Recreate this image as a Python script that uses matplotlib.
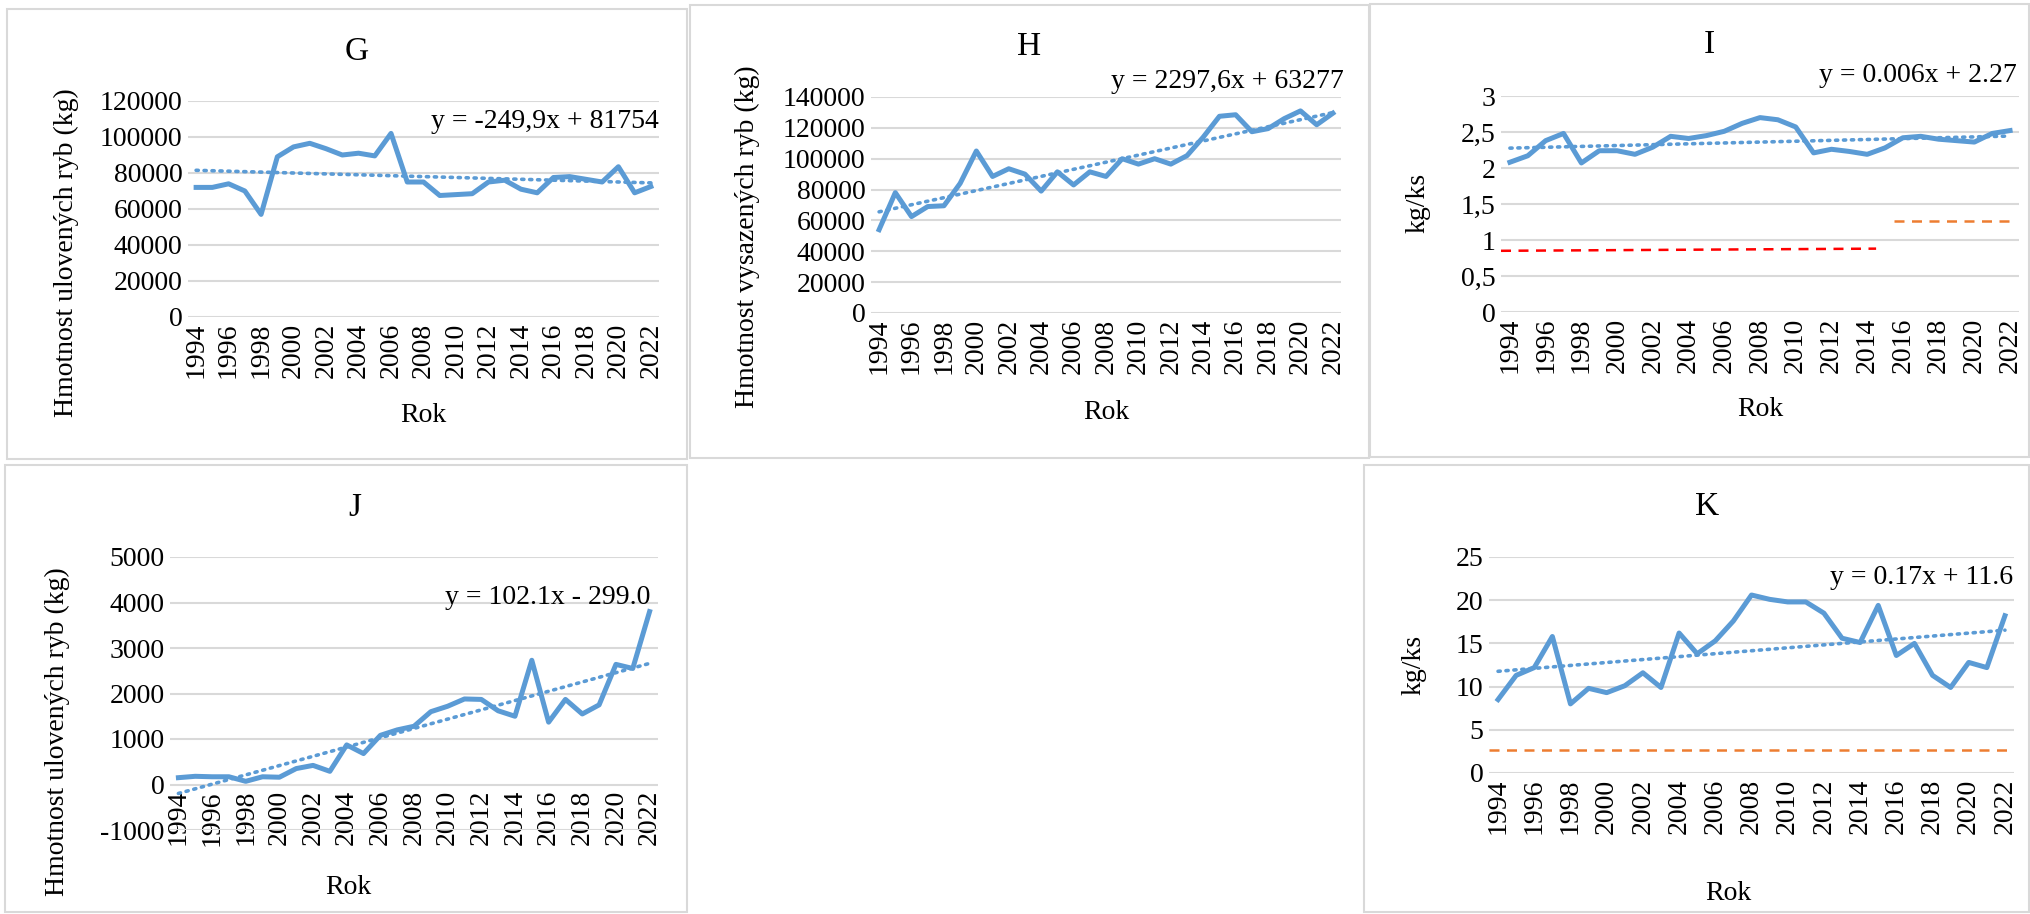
import matplotlib
matplotlib.use("Agg")
import matplotlib.pyplot as plt
from matplotlib.patches import Rectangle
import numpy as np

years = list(range(1994, 2023))
G_vals = [72000,72000,74000,70000,57000,89000,94500,96500,93500,90000,91000,89500,102000,75000,75000,
          67500,68000,68500,75000,76000,71000,69000,77500,78000,76500,75000,83500,69000,72500]
H_vals = [54000,78000,62500,69000,69500,84000,105000,88500,93500,90000,79000,91500,83000,91500,88500,
          100000,96500,100000,96500,102000,114000,127500,128500,117500,119500,126000,131000,122000,129500]
I_vals = [2.08,2.17,2.38,2.48,2.07,2.24,2.24,2.19,2.29,2.44,2.41,2.45,2.51,2.62,2.70,2.67,2.57,2.21,
          2.26,2.23,2.19,2.28,2.42,2.44,2.40,2.38,2.36,2.48,2.52]
J_vals = [150,180,170,170,70,170,160,350,420,290,870,680,1080,1200,1280,1600,1720,1880,1870,1620,1500,
          2730,1370,1870,1550,1750,2640,2550,3800]
K_vals = [8.5,11.3,12.2,15.8,8.0,9.8,9.3,10.1,11.6,9.9,16.2,13.8,15.3,17.6,20.6,20.1,19.8,19.8,18.5,
          15.6,15.1,19.4,13.6,15.0,11.3,9.9,12.8,12.2,18.2]
trends = {"G": (-249.9, 81754), "H": (2297.6, 63277), "I": (0.006, 2.27), "J": (102.1, -299.0), "K": (0.17, 11.6)}
eqs = {"G": "y = -249,9x + 81754", "H": "y = 2297,6x + 63277", "I": "y = 0.006x + 2.27",
       "J": "y = 102.1x - 299.0", "K": "y = 0.17x + 11.6"}
I_red = (0.5, 21.5, 0.85, 0.88)   # x0, x1, y0, y1
I_orange = (22.5, 29.0, 1.26)
K_orange = 2.7

W, H = 2031, 914
fig = plt.figure(figsize=(W/100, H/100), dpi=100)
plt.rcParams['font.family'] = ['Liberation Serif', 'DejaVu Serif']
BLUE = '#5B9BD5'
FS = 20

def fx(x): return x / W
def fy(y): return 1 - y / H

# panel borders
for (x0, y0, x1, y1) in [(7, 9, 687, 459), (690, 5, 1369, 458), (1370, 4, 2029, 457),
                         (5, 465, 687, 912), (1364, 465, 2029, 912)]:
    fig.patches.append(Rectangle((fx(x0), fy(y1)), fx(x1 - x0), (y1 - y0) / H, transform=fig.transFigure,
                                 fill=False, edgecolor='#D9D9D9', lw=1.5))

specs = [
    ("G", G_vals, (188, 101, 659, 317), (0, 120000), 20000, "Hmotnost ulovených ryb (kg)",
     (357, 52), (66, 253), (423, 415), (659, 122)),
    ("H", H_vals, (871, 97, 1341, 313), (0, 140000), 20000, "Hmotnost vysazených ryb (kg)",
     (1029, 47), (747, 237), (1106, 412), (1344, 82)),
    ("I", I_vals, (1501, 96, 2019, 312), (0, 3), 0.5, "kg/ks",
     (1709, 45), (1418, 203), (1760, 410), (2017, 76)),
    ("J", J_vals, (170, 557, 658, 830), (-1000, 5000), 1000, "Hmotnost ulovených ryb (kg)",
     (355, 508), (57, 732), (348, 888), (650, 597)),
    ("K", K_vals, (1489, 557, 2014, 773), (0, 25), 5, "kg/ks",
     (1707, 507), (1414, 665), (1728, 893), (2013, 578)),
]

x = np.arange(1, len(years) + 1)
for name, vals, (l, t, r, b), ylim, step, ylab, tpos, ylpos, rpos, epos in specs:
    ax = fig.add_axes([fx(l), fy(b), fx(r - l), (b - t) / H])
    for s in ax.spines.values():
        s.set_visible(False)
    if ylim[0] < 0:
        ax.spines['bottom'].set_position(('data', 0))
    ax.plot(x, vals, color=BLUE, lw=3.6, solid_joinstyle='round', zorder=3)
    a, c = trends[name]
    ax.plot(x, a * x + c, color=BLUE, lw=2.6, ls=(0, (0.6, 1.6)), dash_capstyle='round', zorder=2)
    if name == "I":
        ax.plot([I_red[0], I_red[1]], [I_red[2], I_red[3]], color='#FF0000', lw=1.8, ls=(0, (4, 3)))
        ax.plot([I_orange[0], I_orange[1]], [I_orange[2], I_orange[2]], color='#ED7D31', lw=1.8, ls=(0, (4, 3)))
    if name == "K":
        ax.plot([0.5, 29.5], [K_orange, K_orange], color='#ED7D31', lw=1.8, ls=(0, (4, 3)))
    ax.set_xlim(0.5, 29.5)
    ax.set_ylim(*ylim)
    yt = np.arange(ylim[0], ylim[1] + step / 2, step)
    ax.set_yticks(yt)
    if step < 1:
        ax.set_yticklabels([("%g" % v).replace('.', ',') for v in yt])
    else:
        ax.set_yticklabels(["%g" % v for v in yt])
    ax.set_xticks(x[::2])
    ax.set_xticklabels([str(y) for y in years[::2]], rotation=90)
    ax.tick_params(length=0, labelsize=FS, pad=4)
    ax.grid(axis='y', color='#D9D9D9', lw=1.5, zorder=0)
    ax.set_facecolor('none')
    fig.text(fx(tpos[0]), fy(tpos[1]), name, ha='center', va='center', fontsize=24)
    fig.text(fx(ylpos[0]), fy(ylpos[1]), ylab, ha='center', va='center', rotation=90, fontsize=FS)
    fig.text(fx(rpos[0]), fy(rpos[1]), "Rok", ha='center', va='center', fontsize=FS)
    fig.text(fx(epos[0]), fy(epos[1]), eqs[name], ha='right', va='center', fontsize=FS)

fig.savefig("out.png", dpi=100)
